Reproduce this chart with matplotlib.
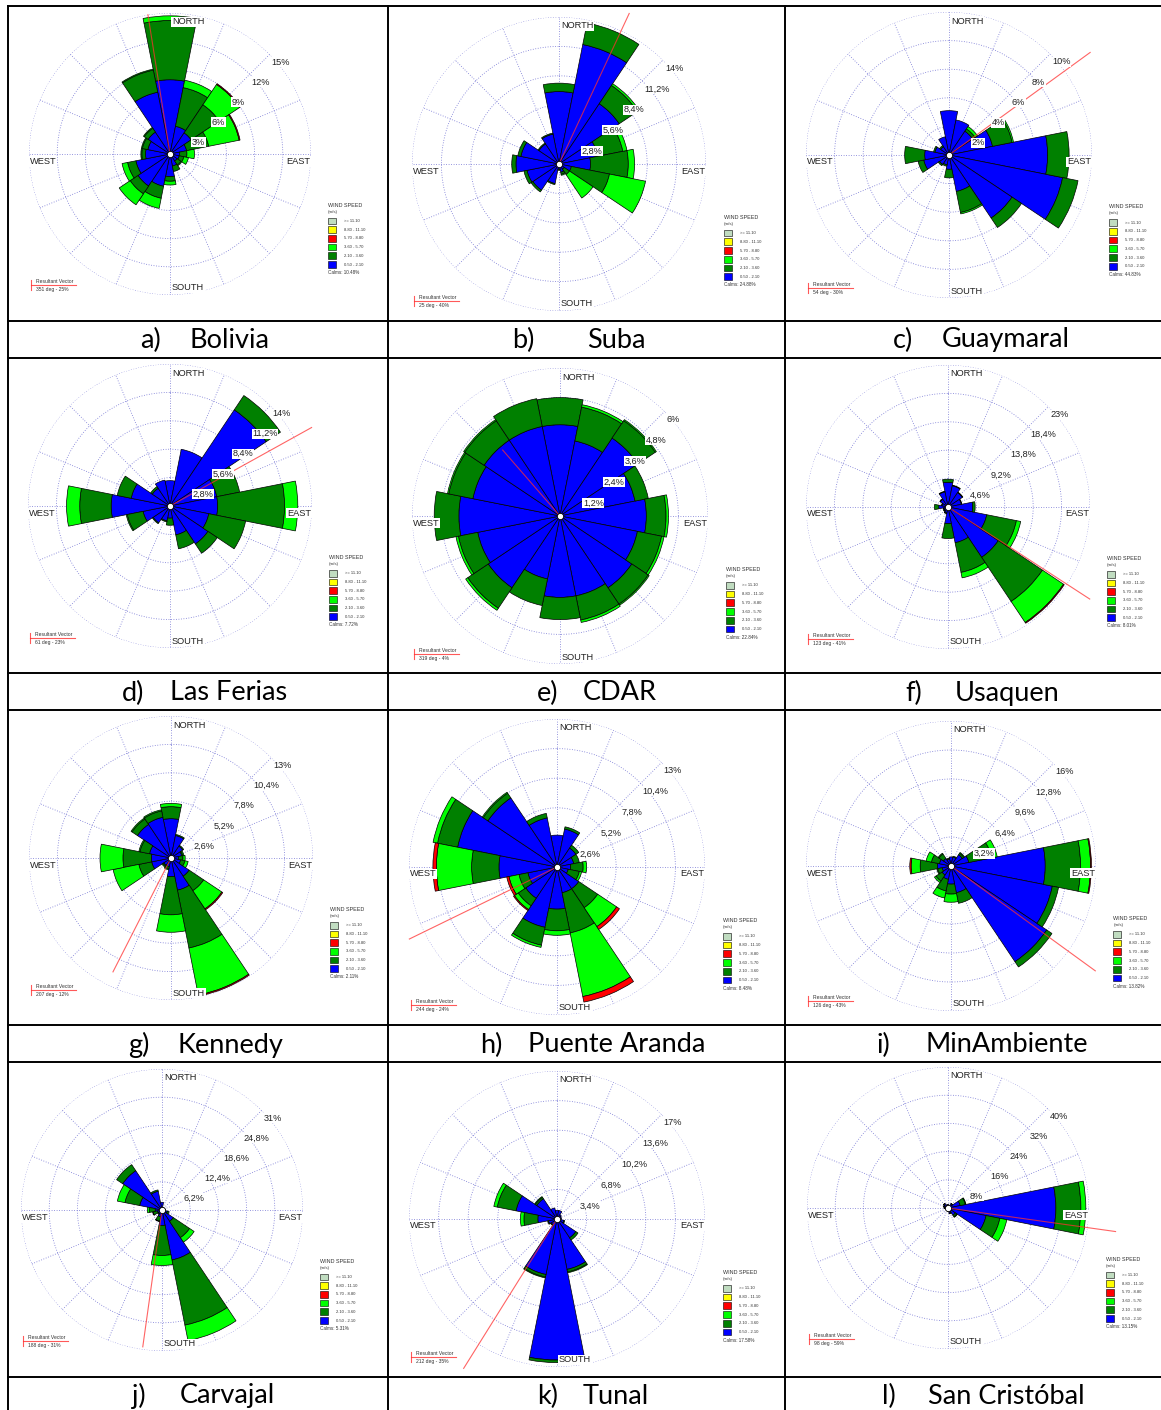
import numpy as np
import matplotlib
matplotlib.use("Agg")
import matplotlib.pyplot as plt
from matplotlib import transforms as mtransforms
from matplotlib.patches import Rectangle

W, H = 1161, 1410

DIRS = ["N", "NNE", "NE", "ENE", "E", "ESE", "SE", "SSE",
        "S", "SSW", "SW", "WSW", "W", "WNW", "NW", "NNW"]

SPEED_LABELS = [">= 11.10", "8.80 - 11.10", "5.70 - 8.80",
                "3.60 - 5.70", "2.10 - 3.60", "0.50 - 2.10"]
SPEED_COLORS = ["#c0dcc0", "#ffff00", "#ff0000", "#00ff00", "#008000", "#0000ff"]

# cumulative frequency (%) reached by each speed class, directions N..NNW
# blue = 0.50-2.10, dkgreen = up to 3.60, lime = up to 5.70, red = extra 5.70-8.80
BOLIVIA_BLUE = [7.9, 3.0, 2.7, 1.8, 1.0, 1.0, 0.9, 1.3, 2.4, 3.5, 4.1, 3.7, 2.6, 2.4, 2.8, 6.7]
BOLIVIA_DKGREEN = [14.2, 7.2, 6.3, 4.2, 1.8, 1.5, 1.4, 1.9, 2.9, 4.8, 5.1, 4.6, 3.0, 3.0, 3.3, 9.1]
BOLIVIA_LIME = [14.7, 8.0, 8.9, 7.5, 2.6, 2.0, 1.5, 1.9, 3.3, 5.9, 6.5, 5.2, 3.1, 3.1, 3.4, 9.2]
BOLIVIA_RED = {"NE": 0.1, "ENE": 0.1}

SUBA_BLUE = [6.9, 11.6, 6.9, 3.8, 3.0, 1.2, 0.6, 0.8, 0.5, 1.9, 3.0, 3.1, 4.1, 3.7, 2.3, 2.9]
SUBA_DKGREEN = [7.7, 13.7, 9.0, 6.2, 6.6, 4.9, 1.2, 1.0, 0.6, 2.0, 3.2, 3.4, 4.5, 4.0, 2.4, 3.0]
SUBA_LIME = [7.7, 13.7, 9.2, 6.6, 7.2, 8.4, 3.9, 1.1, 0.6, 2.0, 3.2, 3.4, 4.5, 4.0, 2.4, 3.0]
SUBA_RED = {}

GUAYMARAL_BLUE = [3.1, 2.5, 2.0, 3.1, 6.9, 8.1, 5.3, 2.6, 1.0, 0.7, 0.8, 1.8, 1.7, 1.0, 0.7, 1.3]
GUAYMARAL_DKGREEN = [3.1, 2.5, 2.2, 4.5, 8.4, 9.2, 6.1, 4.1, 1.6, 0.8, 0.9, 2.2, 3.1, 1.1, 0.8, 1.3]
GUAYMARAL_LIME = [3.1, 2.5, 2.4, 4.6, 8.4, 9.2, 6.1, 4.2, 1.6, 0.8, 0.9, 2.2, 3.1, 1.1, 0.8, 1.3]
GUAYMARAL_RED = {}

FERIAS_BLUE = [2.5, 5.7, 11.4, 4.7, 4.7, 3.9, 4.5, 2.9, 1.2, 1.5, 2.0, 2.7, 5.8, 3.9, 2.1, 2.6]
FERIAS_DKGREEN = [2.5, 5.7, 13.1, 7.0, 11.3, 7.6, 5.6, 4.3, 1.9, 1.6, 2.1, 4.3, 8.9, 5.3, 2.3, 2.6]
FERIAS_LIME = [2.5, 5.7, 13.1, 7.0, 12.6, 7.6, 5.6, 4.3, 1.9, 1.6, 2.1, 4.4, 10.2, 5.3, 2.3, 2.6]
FERIAS_RED = {}

CDAR_BLUE = [3.7, 3.1, 3.8, 3.1, 3.5, 3.2, 3.5, 3.3, 3.3, 2.6, 3.5, 3.4, 4.1, 3.6, 3.7, 3.7]
CDAR_DKGREEN = [4.8, 4.5, 4.65, 3.65, 4.3, 4.2, 4.3, 4.3, 4.2, 3.7, 4.5, 4.2, 5.1, 4.6, 4.65, 4.85]
CDAR_LIME = [4.8, 4.6, 4.7, 3.65, 4.4, 4.3, 4.35, 4.4, 4.2, 3.7, 4.6, 4.3, 5.1, 4.65, 4.7, 4.85]
CDAR_RED = {}

USAQUEN_BLUE = [4.0, 3.5, 2.8, 2.2, 4.0, 6.4, 9.8, 5.9, 2.7, 1.0, 0.8, 0.7, 1.5, 1.0, 1.5, 2.5]
USAQUEN_DKGREEN = [4.5, 3.6, 2.9, 2.3, 4.4, 11.3, 18.4, 10.8, 5.1, 1.1, 0.9, 0.8, 2.2, 1.1, 1.6, 2.6]
USAQUEN_LIME = [4.5, 3.6, 2.9, 2.3, 4.4, 12.0, 22.5, 11.7, 5.1, 1.1, 0.9, 0.8, 2.2, 1.1, 1.6, 2.6]
USAQUEN_RED = {"SE": 0.15}

KENNEDY_BLUE = [3.6, 2.1, 1.3, 1.0, 0.7, 0.9, 2.0, 3.0, 1.7, 0.8, 0.8, 1.8, 1.8, 2.0, 3.7, 3.8]
KENNEDY_DKGREEN = [4.7, 2.2, 1.4, 1.1, 1.1, 1.3, 3.6, 8.4, 5.2, 1.0, 0.9, 3.0, 4.4, 2.9, 4.3, 4.4]
KENNEDY_LIME = [5.0, 2.2, 1.4, 1.2, 1.3, 1.6, 5.6, 12.8, 6.8, 1.1, 1.0, 5.4, 6.5, 3.0, 4.4, 4.5]
KENNEDY_RED = {"SE": 0.1, "SSE": 0.1}

ARANDA_BLUE = [2.8, 3.4, 2.0, 1.5, 1.2, 1.0, 2.3, 2.3, 3.7, 5.4, 3.3, 2.6, 5.1, 8.9, 7.3, 4.4]
ARANDA_DKGREEN = [2.8, 3.6, 2.3, 2.0, 2.3, 2.0, 4.3, 5.9, 5.6, 7.0, 4.1, 3.4, 7.5, 10.7, 7.8, 4.8]
ARANDA_LIME = [2.8, 3.6, 2.3, 2.0, 2.6, 2.2, 6.3, 11.6, 6.0, 7.2, 4.5, 4.3, 10.6, 11.1, 7.9, 4.8]
ARANDA_RED = {"SE": 0.3, "SSE": 0.5, "W": 0.3, "WSW": 0.2, "SW": 0.1}

MINAMB_BLUE = [1.0, 1.0, 1.5, 2.0, 10.4, 11.4, 12.7, 3.0, 2.0, 1.5, 1.2, 1.0, 1.5, 1.3, 1.0, 0.8]
MINAMB_DKGREEN = [1.0, 1.1, 1.7, 4.6, 14.3, 12.1, 13.4, 4.2, 3.1, 2.8, 2.0, 1.5, 3.4, 2.2, 1.6, 0.9]
MINAMB_LIME = [1.0, 1.1, 1.8, 5.2, 15.4, 12.1, 13.4, 4.2, 4.0, 3.6, 2.2, 1.6, 4.4, 2.8, 1.7, 0.9]
MINAMB_RED = {"E": 0.1, "W": 0.15}

CARVAJAL_BLUE = [1.7, 0.6, 0.5, 0.5, 0.6, 1.2, 3.0, 11.2, 3.4, 1.5, 1.0, 1.0, 1.5, 5.0, 10.4, 4.2]
CARVAJAL_DKGREEN = [1.7, 0.6, 0.6, 0.6, 0.8, 1.6, 7.3, 25.8, 10.0, 2.5, 1.2, 2.0, 2.8, 8.3, 12.0, 4.5]
CARVAJAL_LIME = [1.7, 0.6, 0.6, 0.6, 0.8, 1.6, 8.5, 29.3, 12.2, 2.6, 1.2, 2.1, 3.2, 10.0, 12.0, 4.5]
CARVAJAL_RED = {}

TUNAL_BLUE = [1.0, 1.0, 0.6, 0.5, 0.5, 0.8, 2.6, 5.9, 16.2, 6.5, 0.8, 1.0, 2.2, 4.8, 2.8, 1.3]
TUNAL_DKGREEN = [1.0, 1.0, 0.6, 0.5, 0.5, 0.9, 2.9, 6.2, 16.5, 6.8, 0.9, 1.1, 3.8, 7.0, 3.0, 1.3]
TUNAL_LIME = [1.0, 1.0, 0.6, 0.5, 0.5, 0.9, 2.9, 6.3, 16.5, 6.9, 0.9, 1.1, 4.2, 7.4, 3.1, 1.3]
TUNAL_RED = {}

CRISTOBAL_BLUE = [1.0, 0.6, 1.5, 3.5, 30.6, 11.0, 2.5, 1.5, 1.0, 0.6, 0.5, 0.6, 1.0, 1.2, 1.5, 1.0]
CRISTOBAL_DKGREEN = [1.0, 0.6, 1.6, 5.0, 37.7, 15.0, 3.0, 1.7, 1.0, 0.6, 0.5, 0.6, 1.1, 1.3, 1.6, 1.0]
CRISTOBAL_LIME = [1.0, 0.6, 1.6, 5.2, 39.1, 17.0, 3.2, 1.7, 1.0, 0.6, 0.5, 0.6, 1.1, 1.3, 1.6, 1.0]
CRISTOBAL_RED = {}

LETTERS = ["a", "b", "c", "d", "e", "f", "g", "h", "i", "j", "k", "l"]
STATIONS = ["Bolivia", "Suba", "Guaymaral", "Las Ferias", "CDAR", "Usaquen",
            "Kennedy", "Puente Aranda", "MinAmbiente", "Carvajal", "Tunal",
            "San Cristóbal"]
RMAX = [15, 14, 10, 14, 6, 23, 13, 13, 16, 31, 17, 40]
CALMS = ["10.48", "24.88", "44.83", "7.72", "22.84", "8.01",
         "2.11", "8.48", "13.82", "5.31", "17.58", "13.15"]
VEC_DEG = [351, 25, 54, 61, 319, 123, 207, 244, 126, 188, 212, 98]
VEC_PCT = [25, 40, 30, 23, 4, 41, 12, 24, 43, 31, 35, 59]

BLUE = [BOLIVIA_BLUE, SUBA_BLUE, GUAYMARAL_BLUE, FERIAS_BLUE, CDAR_BLUE, USAQUEN_BLUE,
        KENNEDY_BLUE, ARANDA_BLUE, MINAMB_BLUE, CARVAJAL_BLUE, TUNAL_BLUE, CRISTOBAL_BLUE]
DKGREEN = [BOLIVIA_DKGREEN, SUBA_DKGREEN, GUAYMARAL_DKGREEN, FERIAS_DKGREEN, CDAR_DKGREEN,
           USAQUEN_DKGREEN, KENNEDY_DKGREEN, ARANDA_DKGREEN, MINAMB_DKGREEN,
           CARVAJAL_DKGREEN, TUNAL_DKGREEN, CRISTOBAL_DKGREEN]
LIME = [BOLIVIA_LIME, SUBA_LIME, GUAYMARAL_LIME, FERIAS_LIME, CDAR_LIME, USAQUEN_LIME,
        KENNEDY_LIME, ARANDA_LIME, MINAMB_LIME, CARVAJAL_LIME, TUNAL_LIME, CRISTOBAL_LIME]
RED = [BOLIVIA_RED, SUBA_RED, GUAYMARAL_RED, FERIAS_RED, CDAR_RED, USAQUEN_RED,
       KENNEDY_RED, ARANDA_RED, MINAMB_RED, CARVAJAL_RED, TUNAL_RED, CRISTOBAL_RED]

# layout (pixels): rose centres, radii, resultant-vector line length (in radii)
CENTERS = [(170, 154), (559, 164), (949, 155), (170, 506), (560, 516), (948, 507),
           (171, 858), (557, 867), (951, 866), (162, 1210), (557, 1219), (948, 1208)]
RADII = [141, 147, 143, 142, 148, 142, 142, 148, 145, 141, 148, 141]
VEC_LEN = [1.0, 1.13, 1.22, 1.14, 0.59, 1.19, 0.9, 1.11, 1.23, 0.98, 1.19, 1.2]
CAPTION_X = [(140, 190), (512, 587), (893, 942), (122, 170), (537, 583), (905, 955),
             (128, 177), (480, 528), (876, 925), (132, 180), (537, 583), (882, 928)]
CAPTION_Y = [340, 693, 1045, 1396]

GRID = "#7474d4"
VEC_COLOR = "#ff3030"
LABEL_FONT = "Liberation Sans"


def ring_text(v):
    if abs(v - round(v)) < 1e-9:
        return f"{v:.0f}%"
    return f"{v:.1f}%".replace(".", ",")


def draw_rose(fig, i):
    cx, cy = CENTERS[i]
    R = RADII[i]
    rmax = RMAX[i]
    ax = fig.add_axes([(cx - R) / W, 1 - (cy + R) / H, 2 * R / W, 2 * R / H],
                      projection="polar")
    ax.set_theta_zero_location("N")
    ax.set_theta_direction(-1)
    ax.axis("off")
    ax.set_zorder(2)

    theta = np.deg2rad(np.arange(16) * 22.5)
    width = 2 * np.pi / 16

    # dotted grid
    circ = np.linspace(0, 2 * np.pi, 400)
    rings = np.linspace(rmax / 5, rmax, 5)
    for r in rings:
        ax.plot(circ, np.full_like(circ, r), ls=(0, (1, 2)), color=GRID, lw=0.6, zorder=0.5)
    for t in theta:
        ax.plot([t, t], [0, rmax], ls=(0, (1, 2)), color=GRID, lw=0.6, zorder=0.5)

    blue = np.array(BLUE[i])
    dg = np.array(DKGREEN[i])
    lime = np.array(LIME[i])
    red = lime + np.array([RED[i].get(d, 0.0) for d in DIRS])
    bottom = np.zeros(16)
    for top, col in zip([blue, dg, lime, red], SPEED_COLORS[::-1][:4]):
        h = top - bottom
        m = h > 1e-9
        ax.bar(theta[m], h[m], width=width, bottom=bottom[m], color=col,
               edgecolor="black", linewidth=0.5, zorder=2)
        bottom = top

    # resultant vector
    vt = np.deg2rad(VEC_DEG[i])
    ax.plot([vt, vt], [0, VEC_LEN[i] * rmax], color=VEC_COLOR, lw=0.8, alpha=0.75,
            clip_on=False, zorder=4)
    ax.plot([0], [0], "o", ms=4.5, mfc="white", mec="black", mew=0.6, zorder=5,
            clip_on=False)

    # ring labels
    tr = mtransforms.offset_copy(ax.transData, fig=fig, x=2, y=-8, units="dots")
    for r in rings:
        ax.text(np.pi / 4, r, ring_text(r), transform=tr, ha="left", va="center",
                fontsize=6.6, family=LABEL_FONT, color="#222222", zorder=6,
                bbox=dict(fc="white", ec="none", pad=0.4))

    # compass labels
    box = dict(fc="white", ec="none", pad=0.4)
    for ang, txt, dx, dy, ha in [(0, "NORTH", 2, -9, "left"), (np.pi, "SOUTH", 2, 7, "left"),
                                 (1.5 * np.pi, "WEST", 1, -7, "left"),
                                 (0.5 * np.pi, "EAST", -1, -7, "right")]:
        t = mtransforms.offset_copy(ax.transData, fig=fig, x=dx, y=dy, units="dots")
        ax.text(ang, rmax, txt, transform=t, ha=ha, va="center", fontsize=6.7,
                family=LABEL_FONT, color="#222222", bbox=box, zorder=6)
    ax.set_ylim(0, rmax)
    return ax


fig = plt.figure(figsize=(W / 100, H / 100), dpi=100)
bg = fig.add_axes([0, 0, 1, 1])
bg.set_xlim(0, W)
bg.set_ylim(H, 0)
bg.axis("off")
bg.set_zorder(1)

# table frame
for y in [6, 321, 358, 673, 710, 1025, 1062, 1377]:
    bg.plot([8, W], [y, y], color="black", lw=1.4)
for x in [8, 388, 785]:
    bg.plot([x, x], [6, H], color="black", lw=1.4)

for i in range(12):
    draw_rose(fig, i)
    cx, cy = CENTERS[i]
    R = RADII[i]

    # wind speed legend
    lx, ly = cx + 1.12 * R, cy + 0.345 * R
    bg.text(lx, ly, "WIND SPEED", fontsize=3.9, family=LABEL_FONT, va="top", color="#333333")
    bg.text(lx, ly + 7, "(m/s)", fontsize=3.2, family=LABEL_FONT, va="top", color="#333333")
    for k, (lab, col) in enumerate(zip(SPEED_LABELS, SPEED_COLORS)):
        by = ly + 15 + k * 8.7
        bg.add_patch(Rectangle((lx, by), 8, 6.7, fc=col, ec="black", lw=0.4))
        bg.text(lx + 16, by + 3.4, lab, fontsize=3.0, family=LABEL_FONT, va="center",
                color="#333333")
    bg.text(lx, ly + 70, f"Calms: {CALMS[i]}%", fontsize=3.3, family=LABEL_FONT,
            va="center", color="#333333")

    # resultant vector legend
    ox, oy = cx - 0.95 * R, cy + 0.89 * R
    bg.text(ox, oy, "Resultant Vector", fontsize=3.6, family=LABEL_FONT, va="top",
            color="#333333")
    bg.plot([ox - 5, ox + 40], [oy + 6, oy + 6], color=VEC_COLOR, lw=0.8, alpha=0.8)
    bg.plot([ox - 5, ox - 5], [oy + 1, oy + 11], color=VEC_COLOR, lw=0.8, alpha=0.8)
    bg.text(ox, oy + 8, f"{VEC_DEG[i]} deg - {VEC_PCT[i]}%", fontsize=3.6,
            family=LABEL_FONT, va="top", color="#333333")

    # caption
    px, nx = CAPTION_X[i]
    yy = CAPTION_Y[i // 3]
    bg.text(px, yy, f"{LETTERS[i]})", fontsize=19.5, family="Lato", va="center", ha="left")
    bg.text(nx, yy, STATIONS[i], fontsize=19.5, family="Lato", va="center", ha="left")

fig.savefig("out.png", dpi=100, facecolor="white")
